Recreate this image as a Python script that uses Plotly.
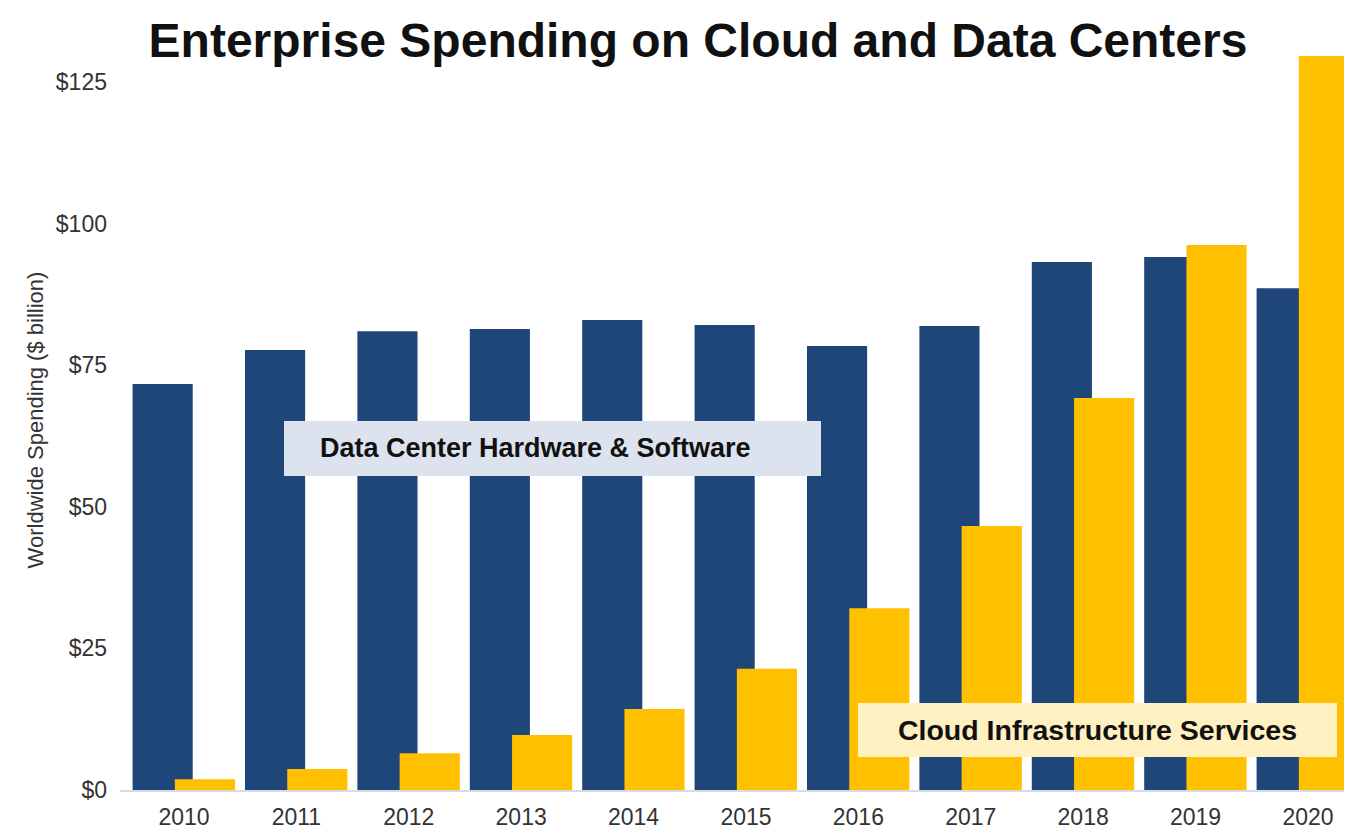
import plotly.graph_objects as go

years = ["2010", "2011", "2012", "2013", "2014", "2015", "2016", "2017", "2018", "2019", "2020"]
data_center = [71.7, 77.7, 81.0, 81.4, 83.0, 82.1, 78.4, 81.9, 93.2, 94.1, 88.6]
cloud = [1.9, 3.7, 6.5, 9.7, 14.3, 21.4, 32.1, 46.6, 69.2, 96.2, 129.6]
y_ticks = [0, 25, 50, 75, 100, 125]
y_tick_labels = ["$0", "$25", "$50", "$75", "$100", "$125"]

BLUE = "#1F4678"
YELLOW = "#FFC000"

fig = go.Figure()
fig.add_trace(go.Bar(
    x=years, y=data_center, name="Data Center Hardware & Software",
    marker=dict(color=BLUE, line=dict(width=0)),
    offset=-0.457, width=0.535,
))
fig.add_trace(go.Bar(
    x=years, y=cloud, name="Cloud Infrastructure Services",
    marker=dict(color=YELLOW, line=dict(width=0)),
    offset=-0.081, width=0.535,
))

# page body has an 8px margin, so the figure is shifted to compensate
fig.update_layout(
    width=1352, height=822,
    margin=dict(l=112, r=0, t=42, b=40),
    paper_bgcolor="white", plot_bgcolor="white",
    barmode="overlay",
    showlegend=False,
    font=dict(family="Liberation Sans, Arial, sans-serif", color="#333333"),
    title=dict(
        text="<b>Enterprise Spending on Cloud and Data Centers</b>",
        x=(698 - 8) / 1352, xanchor="center", xref="container", y=0.961, yanchor="middle",
        font=dict(size=48, color="#111111"),
    ),
    xaxis=dict(
        type="category",
        range=[-0.569, 10.463],
        showgrid=False, zeroline=False,
        showline=True, linecolor="#D5DCE6", linewidth=1.5,
        ticks="", ticklabelstandoff=6,
        tickfont=dict(size=23, color="#333333"),
    ),
    yaxis=dict(
        range=[0, 130.65],
        tickvals=y_ticks, ticktext=y_tick_labels,
        showgrid=False, zeroline=False, showline=False,
        ticks="", ticklabelstandoff=12,
        tickfont=dict(size=23, color="#333333"),
        title=dict(text="Worldwide Spending ($ billion)", font=dict(size=22, color="#333333"), standoff=6),
    ),
    annotations=[
        dict(
            x=3.28, y=60.3, xref="x", yref="y",
            text=" ",
            showarrow=False, font=dict(size=27),
            bgcolor="#DCE3EE", borderpad=0, borderwidth=0,
            width=537, height=55,
        ),
        dict(
            x=3.28, y=60.3, xref="x", yref="y", xshift=-17,
            text="<b>Data Center Hardware & Software</b>",
            showarrow=False, font=dict(size=27, color="#111111"),
        ),
        dict(
            x=8.13, y=10.6, xref="x", yref="y",
            text="<b>Cloud Infrastructure Services</b>",
            showarrow=False, font=dict(size=28.5, color="#111111"),
            bgcolor="#FFF0C2", borderpad=0, borderwidth=0,
            width=479, height=54, align="center",
        ),
    ],
)

fig.write_html("out.html")
